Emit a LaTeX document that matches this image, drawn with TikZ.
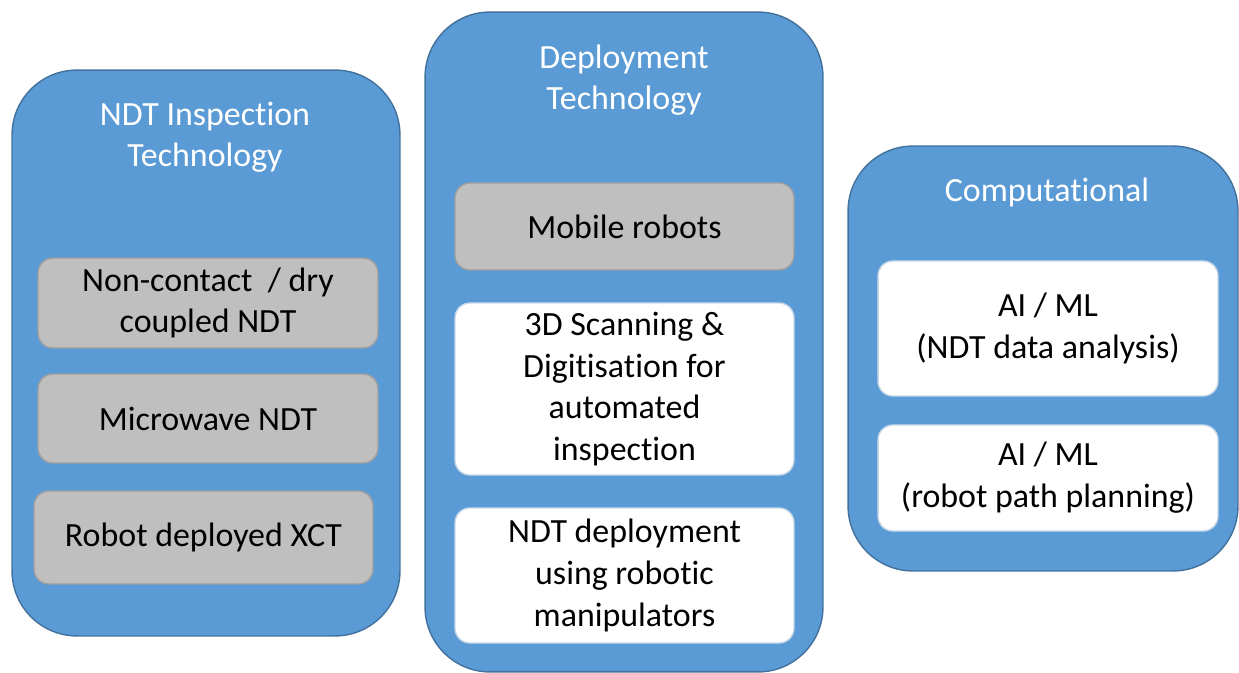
\documentclass[tikz,border=0pt]{standalone}
\usepackage{fontspec}
\setmainfont{Carlito}[Ligatures=NoCommon]
\usepackage{tikz}
\definecolor{panelblue}{HTML}{5B9BD5}
\definecolor{paneledge}{HTML}{41719C}
\definecolor{itemgray}{HTML}{BFBFBF}
\definecolor{grayedge}{HTML}{A0A0A0}
\definecolor{whiteedge}{HTML}{C9D9EA}
\tikzset{
  panel/.style={draw=paneledge, fill=panelblue, line width=0.8pt, rounded corners=1.3cm, inner sep=0pt},
  paneltitle/.style={text=white, align=center, font=\fontsize{19.3}{23.5}\selectfont},
  grayitem/.style={draw=grayedge, fill=itemgray, line width=0.8pt, rounded corners=0.3cm, minimum width=6.8cm, align=center, font=\fontsize{19.3}{23.8}\selectfont, inner sep=0pt},
  whiteitem/.style={draw=whiteedge, fill=white, line width=0.8pt, rounded corners=0.3cm, minimum width=6.8cm, align=center, font=\fontsize{19.3}{23.8}\selectfont, inner sep=0pt}
}
\begin{document}
\begin{tikzpicture}[x=0.02cm, y=-0.02cm]
        \useasboundingbox (0,0) rectangle (1239,672);
        % panels
        \node[panel, minimum width=7.76cm, minimum height=11.32cm] (ndt) at (206,353) {};
        \node[panel, minimum width=7.96cm, minimum height=13.2cm] (deploy) at (624,342) {};
        \node[panel, minimum width=7.8cm, minimum height=8.5cm] (comp) at (1043,358.5) {};
        \node[paneltitle] (ndttitle) at (205,137) {NDT Inspection\\Technology};
        \node[paneltitle] (deploytitle) at (624,80) {Deployment\\Technology};
        \node[paneltitle] (comptitle) at (1047,192) {Computational};
        % NDT inspection items
        \node[grayitem, minimum height=1.8cm] (dry) at (208,303) {Non-contact~~/ dry\\coupled NDT};
        \node[grayitem, minimum height=1.78cm] (micro) at (208,418.5) {Microwave NDT};
        \node[grayitem, minimum width=6.78cm, minimum height=1.86cm] (xct) at (203.5,537.5) {Robot deployed XCT};
        % deployment items
        \node[grayitem, minimum width=6.78cm, minimum height=1.74cm] (mobile) at (624.5,226.5) {Mobile robots};
        \node[whiteitem, minimum width=6.78cm, minimum height=3.44cm] (scan) at (624.5,389) {3D Scanning \&\\Digitisation for\\automated\\inspection};
        \node[whiteitem, minimum width=6.78cm, minimum height=2.7cm] (manip) at (624.5,575.5) {NDT deployment\\using robotic\\manipulators};
        % computational items
        \node[whiteitem, minimum height=2.7cm] (aidata) at (1048,328.5) {AI / ML\\(NDT data analysis)};
        \node[whiteitem, minimum height=2.12cm] (aipath) at (1048,478) {AI / ML\\(robot path planning)};
    \end{tikzpicture}
\end{document}
